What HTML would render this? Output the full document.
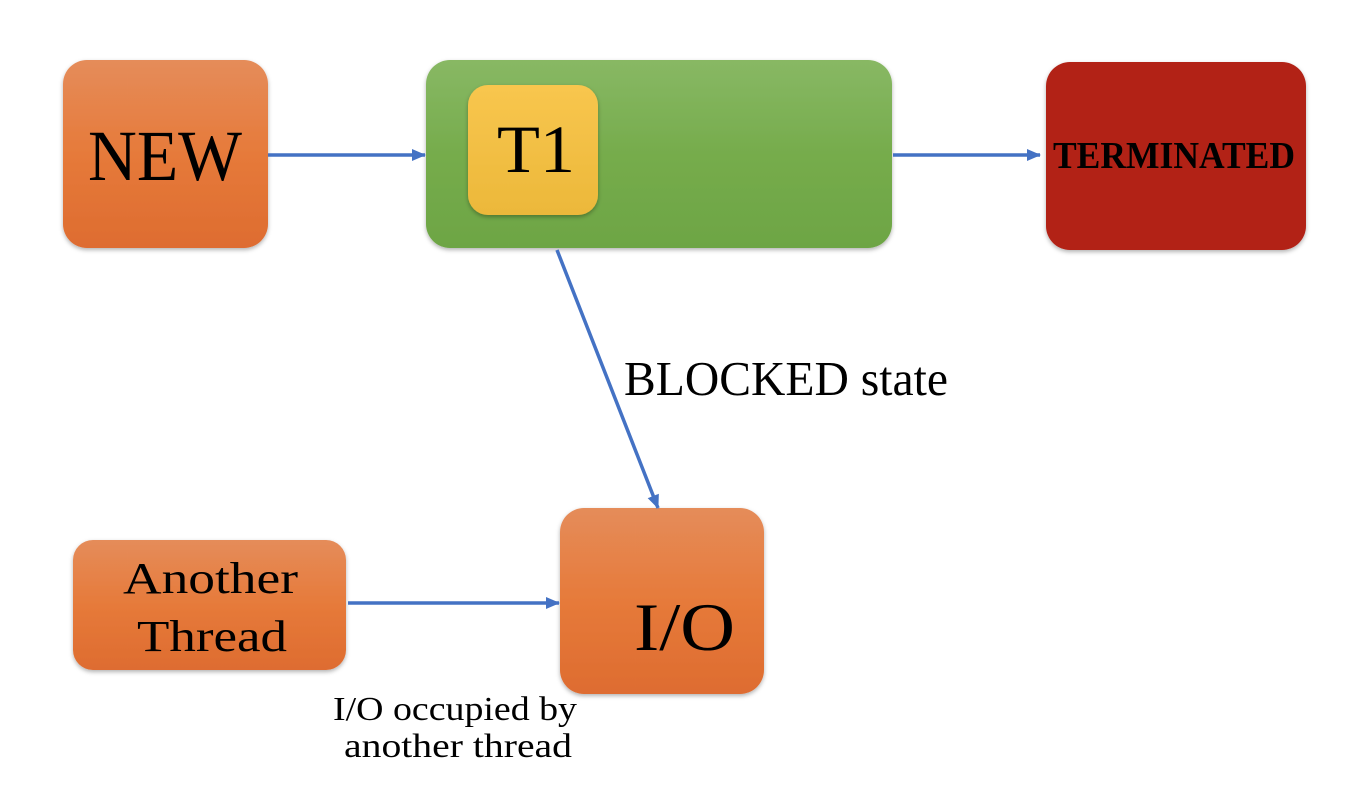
<!DOCTYPE html>
<html><head><meta charset="utf-8"><style>
html,body{margin:0;padding:0;background:#fff;}
svg{display:block;}
text{font-family:"Liberation Serif",serif;fill:#000;}
</style></head><body>
<svg width="1366" height="810" viewBox="0 0 1366 810" xmlns="http://www.w3.org/2000/svg">
<defs>
<linearGradient id="og" x1="0" y1="0" x2="0" y2="1"><stop offset="0" stop-color="#e58c5a"/><stop offset="0.5" stop-color="#e67a3a"/><stop offset="1" stop-color="#de6c30"/></linearGradient>
<linearGradient id="gg" x1="0" y1="0" x2="0" y2="1"><stop offset="0" stop-color="#88b864"/><stop offset="0.5" stop-color="#76ac4c"/><stop offset="1" stop-color="#6da544"/></linearGradient>
<linearGradient id="yg" x1="0" y1="0" x2="0" y2="1"><stop offset="0" stop-color="#f8c64e"/><stop offset="1" stop-color="#ecb83a"/></linearGradient>
<filter id="sh" x="-10%" y="-10%" width="120%" height="125%"><feDropShadow dx="0" dy="2" stdDeviation="2" flood-color="#000" flood-opacity="0.3"/></filter>
<marker id="ah" markerWidth="14" markerHeight="14" refX="13" refY="6" orient="auto" markerUnits="userSpaceOnUse"><path d="M0,0 L14,6 L0,12 z" fill="#4472c4"/></marker>
</defs>
<rect x="63" y="60" width="205" height="188" rx="24" fill="url(#og)" filter="url(#sh)"/>
<text x="88" y="180" font-size="72" textLength="154" lengthAdjust="spacingAndGlyphs">NEW</text>
<rect x="426" y="60" width="466" height="188" rx="24" fill="url(#gg)" filter="url(#sh)"/>
<rect x="468" y="85" width="130" height="130" rx="20" fill="url(#yg)" filter="url(#sh)"/>
<text x="497" y="172" font-size="68" textLength="78" lengthAdjust="spacingAndGlyphs">T1</text>
<rect x="1046" y="62" width="260" height="188" rx="24" fill="#b22218" filter="url(#sh)"/>
<text x="1053" y="168" font-size="38" font-weight="bold" textLength="242" lengthAdjust="spacingAndGlyphs">TERMINATED</text>
<rect x="73" y="540" width="273" height="130" rx="20" fill="url(#og)" filter="url(#sh)"/>
<text x="123" y="593" font-size="44" textLength="175" lengthAdjust="spacingAndGlyphs">Another</text>
<text x="137" y="651" font-size="44" textLength="150" lengthAdjust="spacingAndGlyphs">Thread</text>
<rect x="560" y="508" width="204" height="186" rx="24" fill="url(#og)" filter="url(#sh)"/>
<text x="634" y="650" font-size="68" textLength="101" lengthAdjust="spacingAndGlyphs">I/O</text>
<line x1="268" y1="155" x2="425" y2="155" stroke="#4472c4" stroke-width="3.5" marker-end="url(#ah)"/>
<line x1="893" y1="155" x2="1040" y2="155" stroke="#4472c4" stroke-width="3.5" marker-end="url(#ah)"/>
<line x1="557" y1="250" x2="658" y2="508" stroke="#4472c4" stroke-width="3.5" marker-end="url(#ah)"/>
<line x1="348" y1="603" x2="559" y2="603" stroke="#4472c4" stroke-width="3.5" marker-end="url(#ah)"/>
<text x="624" y="395" font-size="49" textLength="324" lengthAdjust="spacingAndGlyphs">BLOCKED state</text>
<text x="333" y="720" font-size="34" textLength="244" lengthAdjust="spacingAndGlyphs">I/O occupied by</text>
<text x="344" y="757" font-size="34" textLength="228" lengthAdjust="spacingAndGlyphs">another thread</text>
</svg>
</body></html>
